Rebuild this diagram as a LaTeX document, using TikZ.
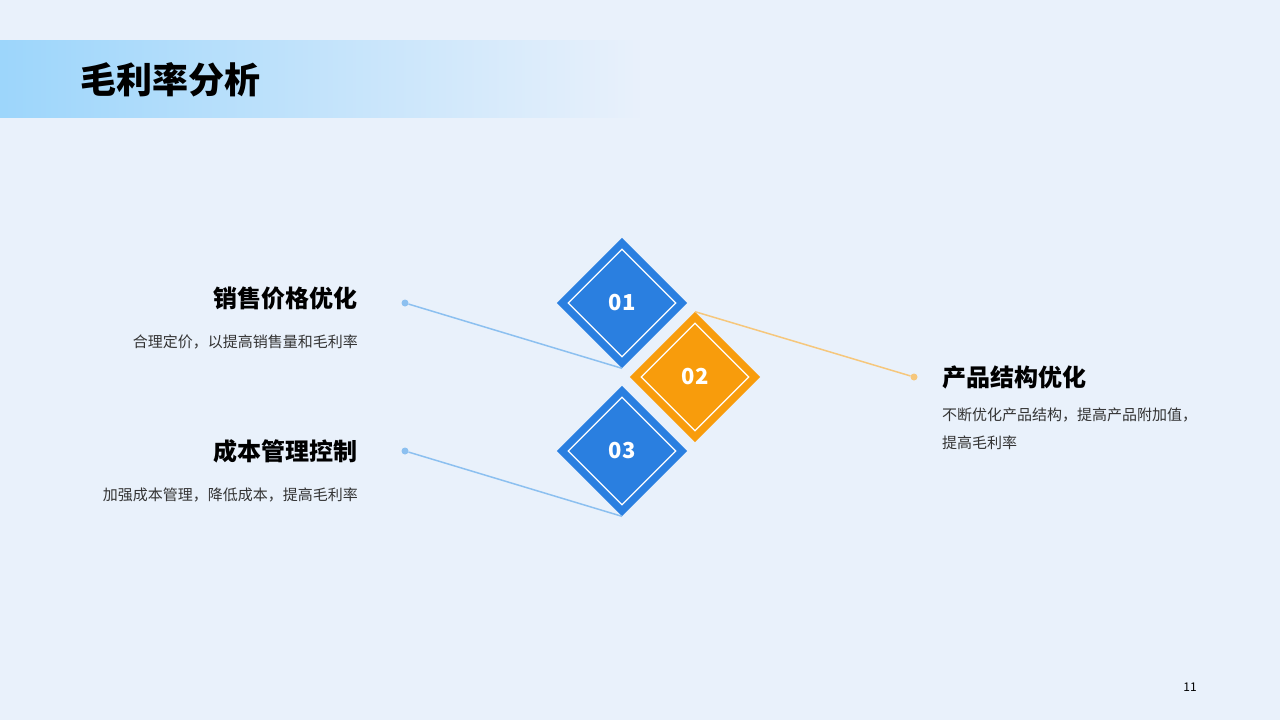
\documentclass[tikz,border=0pt]{standalone}
\usepackage{fontspec}
\setmainfont{Noto Sans CJK SC}
\usetikzlibrary{positioning,fadings}
\definecolor{bgblue}{HTML}{E9F1FB}
\definecolor{barblue}{HTML}{9DD6FB}
\definecolor{mainblue}{HTML}{2A7FE0}
\definecolor{mainorange}{HTML}{F89C0C}
\definecolor{lineblue}{HTML}{8CC0F0}
\definecolor{lineorange}{HTML}{F6C77C}
\tikzfading[name=fade right, left color=transparent!0, right color=transparent!100]

\begin{document}
\begin{tikzpicture}[x=1pt,y=-1pt]
    \tikzstyle{diam}=[draw=none,minimum size=92pt,inner sep=0pt,rotate=45,shape=rectangle]
    \tikzstyle{num}=[text=white,font=\fontsize{22}{24}\selectfont\bfseries]
    \tikzstyle{head}=[font=\fontsize{24}{28}\selectfont\bfseries,text=black,inner sep=0pt]
    \tikzstyle{desc}=[font=\fontsize{15}{28}\selectfont,text=black!80,inner sep=0pt]
    \tikzstyle{dot}=[circle,inner sep=0pt,minimum size=7pt]

    % background and title bar
    \fill[bgblue] (0,0) rectangle (1280,720);
    \fill[barblue,path fading=fade right] (0,40) rectangle (640,118);
    \node[font=\fontsize{36}{40}\selectfont\bfseries,anchor=west,inner sep=0pt] (title) at (80,80) {毛利率分析};

    % diamonds
    \node[diam,fill=mainblue] (D-1) at (622,303) {};
    \node[diam,fill=mainorange] (D-2) at (695,377) {};
    \node[diam,fill=mainblue] (D-3) at (622,451) {};
    \foreach \n in {1,2,3}
        \node[diam,draw=white,line width=1.2pt,minimum size=76pt] at (D-\n) {};
    \node[num] at (D-1) {01};
    \node[num] at (D-2) {02};
    \node[num] at (D-3) {03};

    % connectors
    \node[dot,fill=lineblue] (P-1) at (405,303) {};
    \node[dot,fill=lineblue] (P-3) at (405,451) {};
    \node[dot,fill=lineorange] (P-2) at (914,377) {};
    \draw[lineblue,line width=1.5pt] (P-1) -- (D-1.south west);
    \draw[lineblue,line width=1.5pt] (P-3) -- (D-3.south west);
    \draw[lineorange,line width=1.5pt] (D-2.north east) -- (P-2);

    % texts
    \node[head,anchor=east] (h1) at (358,298) {销售价格优化};
    \node[desc,anchor=east] (d1) at (358,342) {合理定价，以提高销售量和毛利率};
    \node[head,anchor=east] (h3) at (358,451) {成本管理控制};
    \node[desc,anchor=east] (d3) at (358,495) {加强成本管理，降低成本，提高毛利率};
    \node[head,anchor=west] (h2) at (942,377) {产品结构优化};
    \node[desc,anchor=north west,align=left] (d2) at (942,408) {不断优化产品结构，提高产品附加值，\\提高毛利率};
    \node[font=\fontsize{12}{14}\selectfont] (page) at (1190,687) {11};
\end{tikzpicture}
\end{document}
